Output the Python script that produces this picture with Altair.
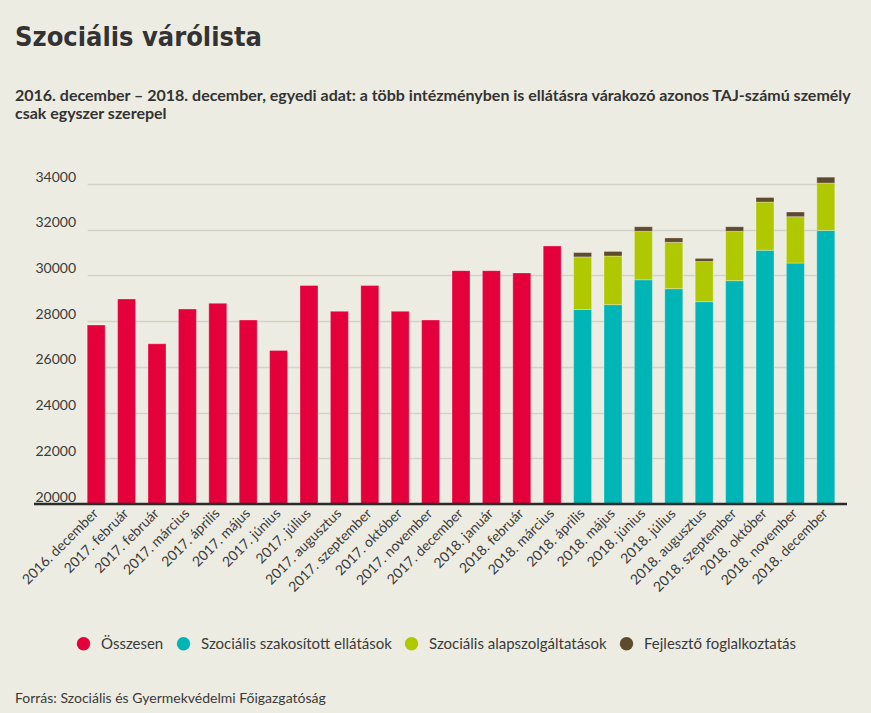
import json
import altair as alt
import pandas as pd

months = [
    "2016. december", "2017. február", "2017. február", "2017. március",
    "2017. április", "2017. május", "2017. június", "2017. július",
    "2017. augusztus", "2017. szeptember", "2017. október", "2017. november",
    "2017. december", "2018. január", "2018. február", "2018. március",
    "2018. április", "2018. május", "2018. június", "2018. július",
    "2018. augusztus", "2018. szeptember", "2018. október", "2018. november",
    "2018. december",
]
osszesen = [27830, 28970, 27010, 28530, 28780, 28050, 26720, 29560, 28430,
            29560, 28430, 28050, 30210, 30210, 30110, 31290]
szakositott = [28510, 28720, 29810, 29420, 28850, 29770, 31100, 30540, 31970]
alap = [2300, 2130, 2120, 2030, 1760, 2160, 2110, 2030, 2070]
fejleszto = [190, 200, 200, 190, 135, 200, 200, 205, 260]

series_names = ["Összesen", "Szociális szakosított ellátások",
                "Szociális alapszolgáltatások", "Fejlesztő foglalkoztatás"]
series_colors = ["#E4003A", "#00B5B5", "#AFC800", "#5E4A2D"]
y_ticks = [20000, 22000, 24000, 26000, 28000, 30000, 32000, 34000]
BASE = 20000

title_text = "Szociális várólista"
subtitle_lines = [
    "2016. december – 2018. december, egyedi adat: a több intézményben is ellátásra várakozó azonos TAJ-számú személy",
    "csak egyszer szerepel",
]
footer_text = "Forrás: Szociális és Gyermekvédelmi Főigazgatóság"

rows = []
for i, v in enumerate(osszesen):
    rows.append({"idx": i, "series": series_names[0], "y0": BASE, "y1": v})
off = len(osszesen)
for j, (a, b, c) in enumerate(zip(szakositott, alap, fejleszto)):
    i = off + j
    rows.append({"idx": i, "series": series_names[1], "y0": BASE, "y1": a})
    rows.append({"idx": i, "series": series_names[2], "y0": a, "y1": a + b})
    rows.append({"idx": i, "series": series_names[3], "y0": a + b, "y1": a + b + c})
df = pd.DataFrame(rows)

label_expr = json.dumps(months, ensure_ascii=False) + "[datum.value]"
TEXT = "#3a3a3a"
FONT = "Lato"

x_enc = alt.X(
    "idx:O",
    scale=alt.Scale(domain=list(range(len(months))), range=[53.2, 800.8],
                    paddingInner=0.408, paddingOuter=0),
    axis=alt.Axis(title=None, labelExpr=label_expr, labelAngle=-45,
                  labelAlign="right", labelBaseline="middle", labelPadding=7,
                  ticks=False, domain=False, grid=False, labelFont=FONT,
                  labelFontSize=14, labelColor=TEXT, labelOverlap=False),
)
y_enc = alt.Y(
    "y0:Q",
    scale=alt.Scale(domain=[20000, 34000], nice=False, zero=False),
    axis=alt.Axis(title=None, values=y_ticks, format="d", orient="left",
                  labelAlign="left", labelPadding=-1,
                  labelBaseline="alphabetic", labelOffset=-3,
                  ticks=False, domain=False, grid=True, gridColor="#D3D2C6",
                  gridWidth=1.5, labelFont=FONT, labelFontSize=14,
                  labelColor=TEXT),
)

bars = alt.Chart(df).mark_bar(stroke="#ffffff", strokeWidth=1, strokeOpacity=0.3).encode(
    x=x_enc,
    y=y_enc,
    y2="y1:Q",
    color=alt.Color(
        "series:N",
        scale=alt.Scale(domain=series_names, range=series_colors),
        sort=None,
        legend=alt.Legend(orient="none", legendX=42, legendY=452,
                          direction="horizontal", title=None,
                          symbolType="circle", symbolSize=180,
                          symbolStrokeWidth=0, symbolOpacity=1,
                          labelFont=FONT, labelFontSize=15, labelColor=TEXT,
                          labelLimit=0, columnPadding=12, labelOffset=10),
    ),
)

baseline = alt.Chart(pd.DataFrame({"v": [BASE]})).mark_rule(
    color="#2b2b2b", strokeWidth=2.5
).encode(y="v:Q", x=alt.value(0), x2=alt.value(813))

footer = alt.Chart(pd.DataFrame({"t": [footer_text]})).mark_text(
    align="left", baseline="middle", font=FONT, fontSize=14, color=TEXT
).encode(text="t:N", x=alt.value(-19), y=alt.value(515))

chart = alt.layer(bars, baseline, footer).properties(
    width=824,
    height=320,
    autosize=alt.AutoSizeParams(type="none"),
    padding={"left": 34, "top": 184, "right": 13, "bottom": 209},
    title=alt.TitleParams(
        text=title_text, subtitle=subtitle_lines, anchor="start", frame="group",
        dx=-19, offset=47, font="DejaVu Sans Condensed, sans-serif",
        fontSize=27, fontWeight="bold", color="#333333",
        subtitleFont=FONT, subtitleFontSize=16, subtitleFontWeight="bold",
        subtitleColor="#333333", subtitlePadding=36, subtitleLineHeight=18,
    ),
).configure(background="#EDECE2").configure_view(stroke=None)

chart.save("out.html", embed_options={"renderer": "svg", "actions": False})
